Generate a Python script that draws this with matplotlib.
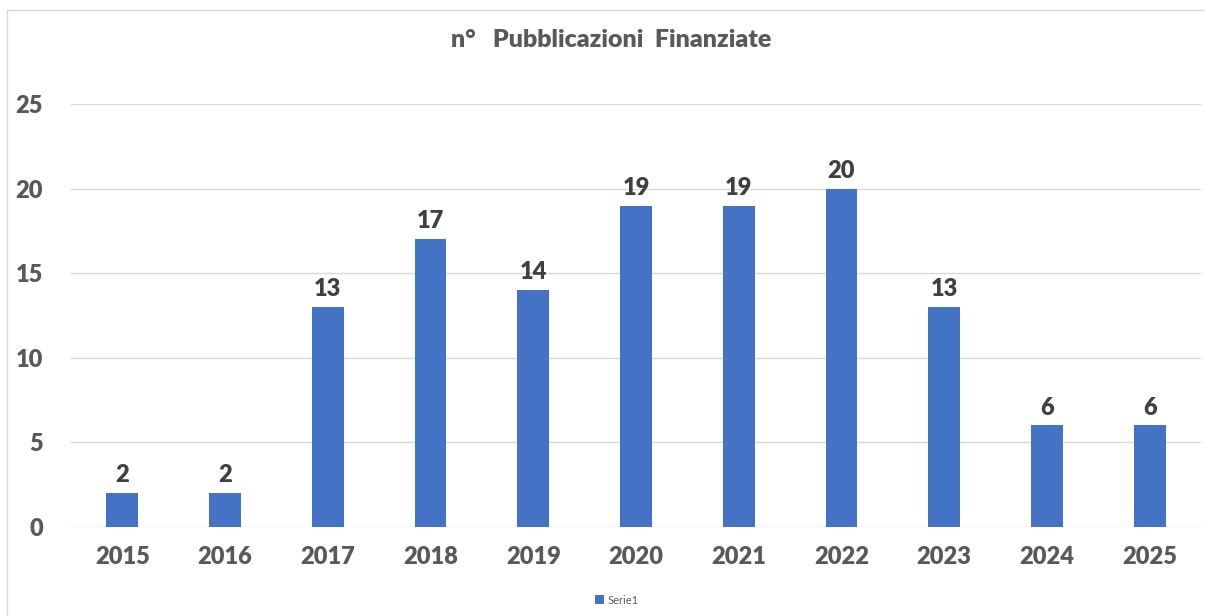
import matplotlib
matplotlib.use("Agg")
import matplotlib.pyplot as plt
from matplotlib.patches import Rectangle

years = ["2015", "2016", "2017", "2018", "2019", "2020", "2021", "2022", "2023", "2024", "2025"]
values = [2, 2, 13, 17, 14, 19, 19, 20, 13, 6, 6]
series_name = "Serie1"
title = "n°   Pubblicazioni  Finanziate"

plt.rcParams['font.family'] = ['Lato', 'DejaVu Sans']

W, H = 1205, 616
fig = plt.figure(figsize=(W/100, H/100), dpi=100)
fig.patch.set_facecolor("white")

# outer chart border
fig.add_artist(Rectangle((7/W, -0.01), 1.2, 1 - 10/H + 0.01, transform=fig.transFigure,
                         fill=False, edgecolor="#d9d9d9", linewidth=1.0))

ax = fig.add_axes([71/W, 1 - 527/H, (1201-71)/W, (527-104)/H])
x = list(range(len(years)))
bars = ax.bar(x, values, width=0.31, color="#4472c4", label=series_name, zorder=3)
ax.set_xlim(-0.5, len(years) - 0.5)
ax.set_ylim(0, 25)
ax.set_yticks([0, 5, 10, 15, 20, 25])
ax.set_xticks(x)
ax.set_xticklabels(years)
ax.grid(axis="y", color="#d9d9d9", linewidth=1.0, zorder=0)
for s in ax.spines.values():
    s.set_visible(False)
ax.tick_params(axis="both", length=0, colors="#595959", labelsize=17)
ax.tick_params(axis="y", pad=20)
ax.tick_params(axis="x", pad=14)
for lab in ax.get_xticklabels() + ax.get_yticklabels():
    lab.set_fontweight("heavy")
    lab.set_color("#595959")

for xi, v in zip(x, values):
    ax.annotate(str(v), (xi, v), xytext=(0, 5), textcoords="offset points",
                ha="center", va="bottom", fontsize=17, fontweight="heavy", color="#404040")

fig.text(611/W, 1 - 40/H, title, ha="center", va="center", fontsize=18,
         fontweight="heavy", color="#595959")

leg = fig.legend(handles=[bars], labels=[series_name], loc="center", bbox_to_anchor=(617/W, 1 - 600/H),
                 frameon=False, fontsize=8, handlelength=0.8, handleheight=0.8, handletextpad=0.3)
for t in leg.get_texts():
    t.set_color("#595959")

fig.savefig("out.png", dpi=100)
